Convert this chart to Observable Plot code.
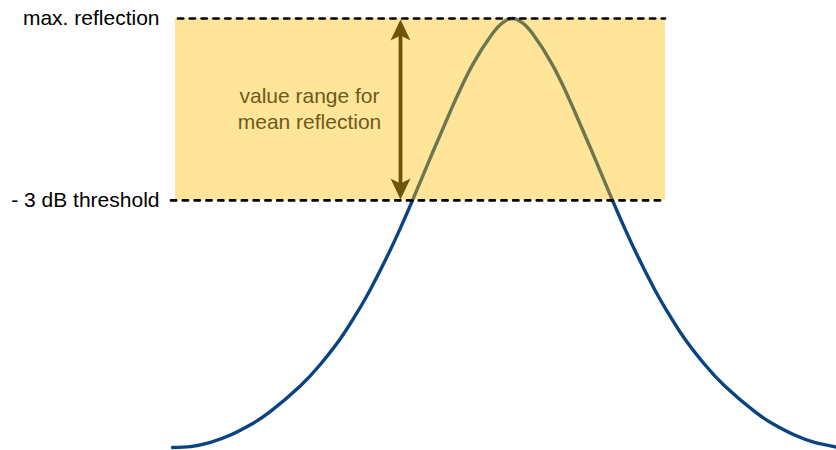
<!DOCTYPE html>
<html>
<head>
<meta charset="utf-8">
<script src="https://cdn.jsdelivr.net/npm/d3@7"></script>
<script src="https://cdn.jsdelivr.net/npm/@observablehq/plot@0.6"></script>
<style>
  html, body { margin: 0; padding: 0; background: #fff; }
  #chart svg { display: block; }
</style>
</head>
<body>
<div id="chart"></div>
<script>
// Curve: position (arbitrary units) and relative reflection (max = 1)
const positions = [-3.40, -3.22, -3.02, -2.82, -2.62, -2.42, -2.12, -1.92, -1.72, -1.55,
                   -1.42, -1.25, -1.12, -1.00, -0.80, -0.60, -0.40, -0.20, -0.10, 0.00,
                   0.10, 0.20, 0.40, 0.60, 0.80, 1.00, 1.12, 1.25, 1.42, 1.55,
                   1.72, 1.92, 2.12, 2.42, 2.62, 2.82, 3.02, 3.24];
const reflection = [0.000, 0.002, 0.012, 0.029, 0.053, 0.084, 0.144, 0.194, 0.254, 0.316,
                    0.369, 0.447, 0.512, 0.576, 0.687, 0.795, 0.892, 0.965, 0.990, 1.000,
                    0.990, 0.965, 0.892, 0.795, 0.687, 0.576, 0.512, 0.447, 0.369, 0.316,
                    0.254, 0.194, 0.144, 0.084, 0.053, 0.029, 0.012, 0.001];

// Reference levels
const levelNames = ["max. reflection", "- 3 dB threshold"];
const levelValues = [1.0, 0.576];
const levelStarts = [-3.34, -3.41];

// Band and annotation
const bandStart = -3.37;
const bandEnd = 1.53;
const arrowPos = -1.12;
const noteLines = ["value range for", "mean reflection"];
const notePos = -2.03;

const curve = positions.map((x, i) => ({x, y: reflection[i]}));
const levels = levelNames.map((name, i) => ({name, y: levelValues[i], x1: levelStarts[i]}));
const maxLevel = levelValues[0];
const thrLevel = levelValues[1];

const headShape = {
  draw(ctx) {
    ctx.moveTo(0, 0);
    ctx.lineTo(10, 21);
    ctx.lineTo(0, 16);
    ctx.lineTo(-10, 21);
    ctx.closePath();
  }
};

const font = "'Liberation Sans', Arial, sans-serif";
const arrowColor = "#6e5409";

const chart = Plot.plot({
  width: 836,
  height: 450,
  marginLeft: 0,
  marginRight: 0,
  marginTop: 18,
  marginBottom: 3,
  style: {fontFamily: font, overflow: "visible", background: "#fff"},
  x: {domain: [-5.12, 3.24], axis: null},
  y: {domain: [0, 1], axis: null},
  marks: [
    Plot.line(curve, {x: "x", y: "y", stroke: "#0a4381", strokeWidth: 3.4, curve: "natural"}),
    Plot.rect([{x1: bandStart, x2: bandEnd, y1: thrLevel, y2: maxLevel}],
      {x1: "x1", x2: "x2", y1: "y1", y2: "y2", fill: "#fcbf08", fillOpacity: 0.41}),
    Plot.ruleY(levels, {y: "y", x1: "x1", x2: bandEnd, stroke: "#000", strokeWidth: 2.7,
      strokeDasharray: "5.2,6.6", strokeLinecap: "round"}),
    Plot.text(levels, {x: bandStart, y: "y", text: "name", textAnchor: "end", dx: -16,
      fontSize: 21, fill: "#000"}),
    Plot.ruleX([arrowPos], {y1: maxLevel, y2: thrLevel, stroke: arrowColor, strokeWidth: 3.8,
      insetTop: 10, insetBottom: 10}),
    Plot.dot([{x: arrowPos, y: maxLevel}], {x: "x", y: "y", symbol: headShape, fill: arrowColor, stroke: "none", dy: 1}),
    Plot.dot([{x: arrowPos, y: thrLevel}], {x: "x", y: "y", symbol: headShape, fill: arrowColor, stroke: "none", rotate: 180, dy: -1}),
    Plot.text([noteLines.join("\n")], {x: notePos, y: (thrLevel + maxLevel) / 2, text: d => d,
      fontSize: 21, lineHeight: 1.28, fill: "#6e5a1a", textAnchor: "middle", dy: -2})
  ]
});

document.getElementById("chart").appendChild(chart);
</script>
</body>
</html>
